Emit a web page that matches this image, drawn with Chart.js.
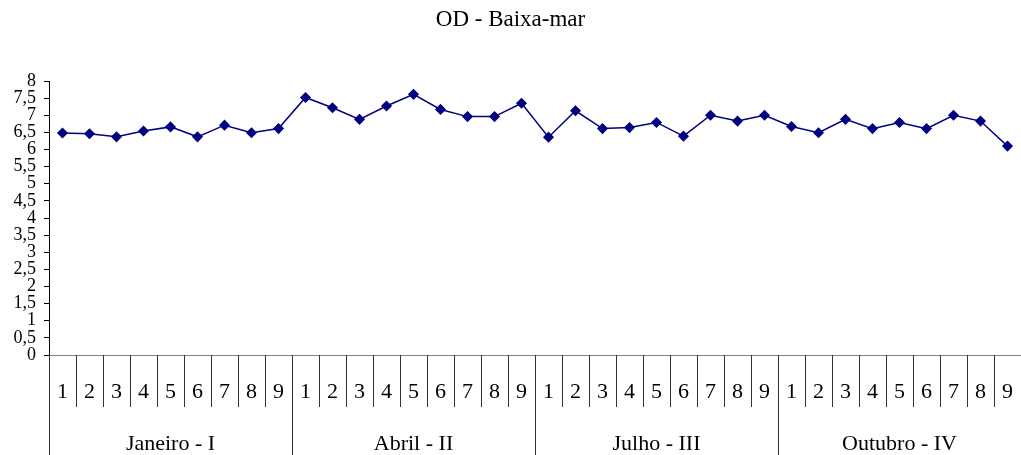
<!DOCTYPE html>
<html>
<head>
    <meta charset="utf-8" />
    <title>OD - Baixa-mar</title>
    <style>
        html, body { margin: 0; padding: 0; background: #fff; overflow: hidden; }
        #chartBox { position: relative; width: 1021px; height: 455px; }
        canvas { display: block; }
    </style>
</head>
<body>
    <div id="chartBox">
        <canvas id="odChart"></canvas>
    </div>

    <script src="https://cdn.jsdelivr.net/npm/chart.js"></script>
    <script>
        // trimestres e campanhas
        const groups = ['Janeiro - I', 'Abril - II', 'Julho - III', 'Outubro - IV'];
        const stations = ['1', '2', '3', '4', '5', '6', '7', '8', '9'];

        const janeiro = [6.48, 6.46, 6.37, 6.54, 6.66, 6.37, 6.71, 6.49, 6.61];
        const abril = [7.52, 7.22, 6.88, 7.27, 7.61, 7.17, 6.96, 6.96, 7.35];
        const julho = [6.36, 7.13, 6.61, 6.64, 6.79, 6.39, 7.00, 6.83, 7.00];
        const outubro = [6.67, 6.49, 6.88, 6.61, 6.79, 6.61, 7.00, 6.83, 6.10];

        const yTicks = { min: 0, max: 8, step: 0.5 };

        const labels = [];
        groups.forEach(g => stations.forEach(s => labels.push(s)));
        const values = [].concat(janeiro, abril, julho, outubro);

        const serif = "'Liberation Serif', 'Times New Roman', serif";

        // draws the two level category labels under the axis
        const groupLabels = {
            id: 'groupLabels',
            afterDraw(chart) {
                const ctx = chart.ctx;
                const x = chart.scales.x;
                const top = chart.chartArea.bottom;
                const n = labels.length;
                const half = (x.getPixelForValue(1) - x.getPixelForValue(0)) / 2;

                ctx.save();
                ctx.strokeStyle = '#333';
                ctx.lineWidth = 1;
                ctx.fillStyle = '#000';
                ctx.textAlign = 'center';
                ctx.textBaseline = 'alphabetic';

                for (let i = 0; i <= n; i++) {
                    const px = Math.round(x.getPixelForValue(i) - half) + 0.5;
                    const bottom = (i % stations.length === 0) ? chart.height : top + 52;
                    ctx.beginPath();
                    ctx.moveTo(px, top);
                    ctx.lineTo(px, bottom);
                    ctx.stroke();
                }

                ctx.font = '22px ' + serif;
                for (let i = 0; i < n; i++) {
                    ctx.fillText(labels[i], x.getPixelForValue(i), top + 43);
                }

                groups.forEach((g, gi) => {
                    const a = x.getPixelForValue(gi * stations.length) - half;
                    const b = x.getPixelForValue((gi + 1) * stations.length - 1) + half;
                    ctx.fillText(g, (a + b) / 2, top + 95);
                });
                ctx.restore();
            }
        };

        const ctx = document.getElementById('odChart').getContext('2d');
        new Chart(ctx, {
            type: 'line',
            data: {
                labels: labels,
                datasets: [{
                    label: 'OD',
                    data: values,
                    borderColor: '#000080',
                    backgroundColor: '#000080',
                    borderWidth: 1.5,
                    pointStyle: 'rectRot',
                    pointRadius: 4.5,
                    pointHoverRadius: 4.5,
                    tension: 0
                }]
            },
            options: {
                responsive: true,
                maintainAspectRatio: false,
                animation: false,
                layout: { padding: 0, autoPadding: false },
                plugins: {
                    legend: { display: false },
                    tooltip: { enabled: false },
                    title: {
                        display: true,
                        text: 'OD - Baixa-mar',
                        color: '#000',
                        font: { family: serif, size: 23, weight: 'normal' },
                        padding: { top: 6, bottom: 47.4 }
                    }
                },
                scales: {
                    x: {
                        offset: true,
                        grid: { display: false },
                        ticks: { display: false },
                        border: { display: true, color: '#808080', width: 1 },
                        afterFit: scale => { scale.height = 100; }
                    },
                    y: {
                        min: yTicks.min,
                        max: yTicks.max,
                        grid: { drawOnChartArea: false, tickLength: 5, color: '#000' },
                        border: { display: true, color: '#000', width: 1 },
                        ticks: {
                            stepSize: yTicks.step,
                            autoSkip: false,
                            padding: 8,
                            color: '#000',
                            font: { family: serif, size: 18 },
                            callback: v => String(v).replace('.', ',')
                        },
                        afterFit: scale => { scale.width = 49; }
                    }
                }
            },
            plugins: [groupLabels]
        });
    </script>
</body>
</html>
